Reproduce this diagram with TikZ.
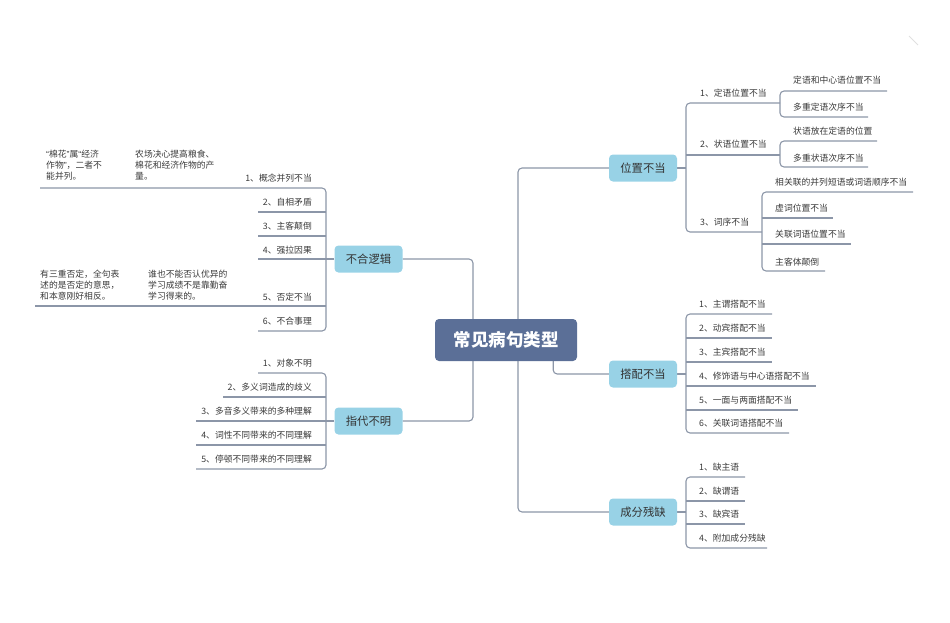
\documentclass[tikz,border=0pt]{standalone}
\usepackage{fontspec}
\newfontfamily\cjk{Noto Sans CJK SC}
\newfontfamily\lat{Liberation Sans}
\usetikzlibrary{backgrounds}
\definecolor{linec}{HTML}{8C96A8}
\definecolor{topicc}{HTML}{98D2E6}
\definecolor{rootc}{HTML}{5B6F97}
\definecolor{txtc}{HTML}{3A3A3A}
\tikzset{
  conn/.style={draw=linec, line width=1.1pt},
  rconn/.style={conn, rounded corners=4pt},
  itemr/.style={anchor=west, inner sep=0pt, text=txtc, font=\cjk\fontsize{8.8}{11}\selectfont},
  iteml/.style={anchor=east, inner sep=0pt, text=txtc, font=\cjk\fontsize{8.8}{11}\selectfont},
  notebox/.style={anchor=north west, inner sep=0pt, align=left, text=txtc, font=\cjk\fontsize{8.8}{11}\selectfont},
  topic/.style={fill=topicc, rounded corners=4pt, minimum width=68pt, minimum height=27pt, inner sep=0pt, text=black!80, font=\cjk\fontsize{11.3}{13}\selectfont},
  rootbox/.style={fill=rootc, rounded corners=4pt, minimum width=142pt, minimum height=42pt, inner sep=0pt, text=white, font=\cjk\bfseries\fontsize{17.5}{20}\selectfont}
}
\begin{document}
\begin{tikzpicture}[x=1pt,y=-1pt]
\path[use as bounding box] (0,0) rectangle (950,622);
% main nodes
\node[rootbox] (R) at (506,340) {常见病句类型};
\node[topic] (P) at (643,168) {位置不当};
\node[topic] (D) at (643,374) {搭配不当};
\node[topic] (C) at (643,512) {成分残缺};
\node[topic] (L1) at (368.5,259) {不合逻辑};
\node[topic] (L2) at (368.5,421) {指代不明};
% right: 位置不当
\node[itemr] (p1) at (700,93) {1、定语位置不当};
\node[itemr] (p2) at (700,144) {2、状语位置不当};
\node[itemr] (p3) at (700,222) {3、词序不当};
\node[itemr] (p11) at (793,80) {定语和中心语位置不当};
\node[itemr] (p12) at (793,107) {多重定语次序不当};
\node[itemr] (p21) at (793,131) {状语放在定语的位置};
\node[itemr] (p22) at (793,158) {多重状语次序不当};
\node[itemr] (p31) at (775,182) {相关联的并列短语或词语顺序不当};
\node[itemr] (p32) at (775,208) {虚词位置不当};
\node[itemr] (p33) at (775,234) {关联词语位置不当};
\node[itemr] (p34) at (775,262) {主客体颠倒};
% right: 搭配不当
\node[itemr] (d1) at (699,304) {1、主谓搭配不当};
\node[itemr] (d2) at (699,328) {2、动宾搭配不当};
\node[itemr] (d3) at (699,352) {3、主宾搭配不当};
\node[itemr] (d4) at (699,376) {4、修饰语与中心语搭配不当};
\node[itemr] (d5) at (699,400) {5、一面与两面搭配不当};
\node[itemr] (d6) at (699,423) {6、关联词语搭配不当};
% right: 成分残缺
\node[itemr] (c1) at (699,467) {1、缺主语};
\node[itemr] (c2) at (699,491) {2、缺谓语};
\node[itemr] (c3) at (699,514) {3、缺宾语};
\node[itemr] (c4) at (699,538) {4、附加成分残缺};
% left: 不合逻辑
\node[iteml] (l1) at (312,178) {1、概念并列不当};
\node[iteml] (l2) at (312,202) {2、自相矛盾};
\node[iteml] (l3) at (312,226) {3、主客颠倒};
\node[iteml] (l4) at (312,250) {4、强拉因果};
\node[iteml] (l5) at (312,297) {5、否定不当};
\node[iteml] (l6) at (312,321) {6、不合事理};
\node[notebox] (n1) at (135,150) {农场决心提高粮食、\\棉花和经济作物的产\\量。};
\node[notebox] (n2) at (46,150) {{\lat “}棉花{\lat ”}属{\lat “}经济\\作物{\lat ”}，二者不\\能并列。};
\node[notebox] (n3) at (148,270) {谁也不能否认优异的\\学习成绩不是靠勤奋\\学习得来的。};
\node[notebox] (n4) at (40,270) {有三重否定，全句表\\述的是否定的意思，\\和本意刚好相反。};
% left: 指代不明
\node[iteml] (m1) at (312,363) {1、对象不明};
\node[iteml] (m2) at (312,387) {2、多义词造成的歧义};
\node[iteml] (m3) at (312,411) {3、多音多义带来的多种理解};
\node[iteml] (m4) at (312,435) {4、词性不同带来的不同理解};
\node[iteml] (m5) at (312,459) {5、停顿不同带来的不同理解};
\begin{scope}[on background layer]
% trunks
\draw[rconn] (P.west) -- (518,168) -- (518,512) -- (C.west);
\draw[rconn] (R.south east) ++(-24,0) |- (D.west);
\draw[rconn] (L1.east) -- (473,259) -- (473,421) -- (L2.east);
% 位置不当 subtree
\draw[conn] (P.east) -- (686,168);
\draw[rconn] (780,103) -- (686,103) -- (686,232) -- (762,232);
\draw[conn] (686,155) -- (780,155);
\draw[rconn] (887,91) -- (780,91) -- (780,117) -- (868,117);
\draw[rconn] (877,141) -- (780,141) -- (780,167) -- (868,167);
\draw[rconn] (913,192) -- (762,192) -- (762,271) -- (825,271);
\draw[conn] (762,218) -- (833,218);
\draw[conn] (762,244) -- (851,244);
% 搭配不当 subtree
\draw[conn] (D.east) -- (686,374);
\draw[rconn] (772,314) -- (686,314) -- (686,433) -- (789,433);
\draw[conn] (686,338) -- (772,338);
\draw[conn] (686,362) -- (772,362);
\draw[conn] (686,386) -- (816,386);
\draw[conn] (686,410) -- (798,410);
% 成分残缺 subtree
\draw[conn] (C.east) -- (686,512);
\draw[rconn] (745,477) -- (686,477) -- (686,548) -- (767,548);
\draw[conn] (686,501) -- (745,501);
\draw[conn] (686,524) -- (745,524);
% 不合逻辑 subtree
\draw[conn] (L1.west) -- (326,259);
\draw[rconn] (40,188) -- (326,188) -- (326,331) -- (258,331);
\draw[conn] (326,212) -- (258,212);
\draw[conn] (326,236) -- (258,236);
\draw[conn] (326,259) -- (258,259);
\draw[conn] (326,306) -- (35,306);
% 指代不明 subtree
\draw[conn] (L2.west) -- (326,421);
\draw[rconn] (258,373) -- (326,373) -- (326,469) -- (196,469);
\draw[conn] (326,397) -- (223,397);
\draw[conn] (326,421) -- (196,421);
\draw[conn] (326,445) -- (196,445);
% faint mark
\draw[black!12, line width=1pt] (909,36) -- (918,45);
\end{scope}
\end{tikzpicture}
\end{document}
